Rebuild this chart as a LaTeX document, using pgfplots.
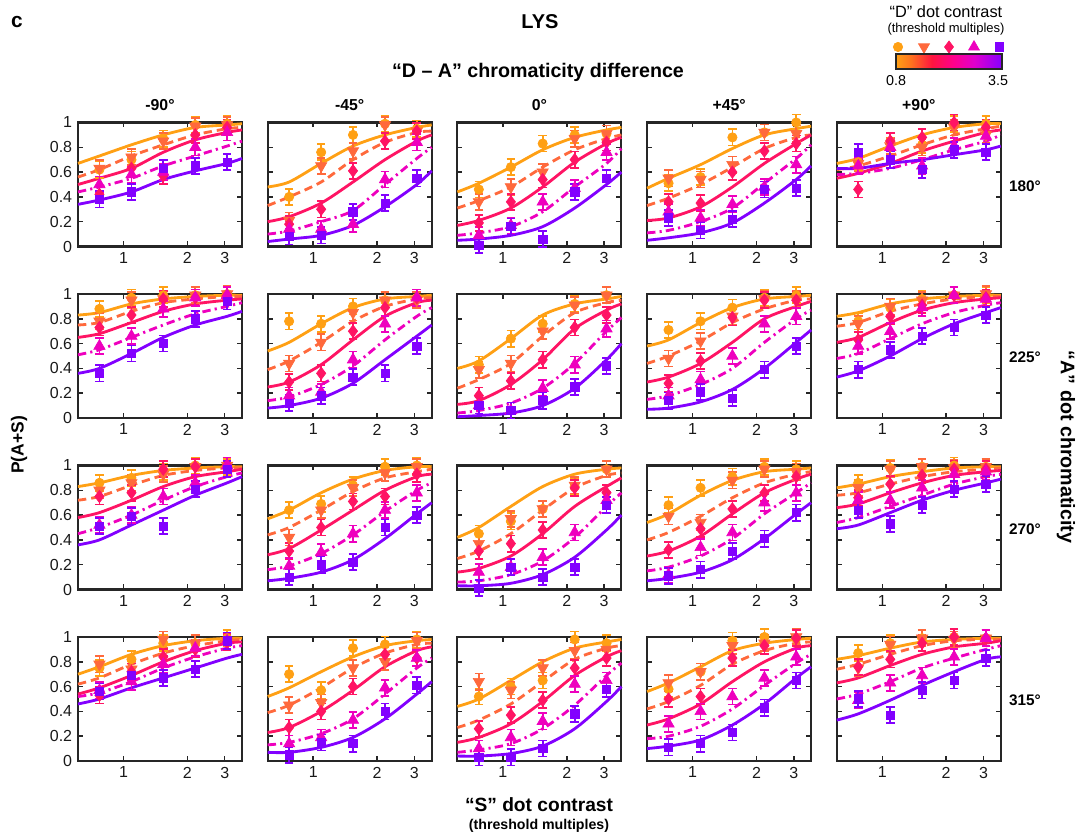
\documentclass[border=0pt]{standalone}
\usepackage{fontspec}
\setmainfont{Liberation Sans}
\usepackage{pgfplots}
\usepackage{pgfplotstable}
\pgfplotsset{compat=1.18}

\definecolor{cO}{RGB}{255,160,20}
\definecolor{cC}{RGB}{255,105,60}
\definecolor{cR}{RGB}{255,20,100}
\definecolor{cM}{RGB}{238,0,190}
\definecolor{cV}{RGB}{130,0,255}
\definecolor{axgray}{RGB}{38,38,38}

\pgfdeclarehorizontalshading{dbar}{100bp}{rgb(0bp)=(1,0.63,0.08); rgb(25bp)=(1,0.63,0.08); rgb(32bp)=(1,0.45,0.12); rgb(42bp)=(1,0.08,0.25); rgb(52bp)=(1,0,0.55); rgb(62bp)=(0.88,0,0.8); rgb(75bp)=(0.52,0,1); rgb(100bp)=(0.52,0,1)}

% ---------------- data (points) and fitted curves ----------------
% columns: x, orange (0.8), coral, red, magenta, violet (3.5)
\pgfplotstableread[row sep=\\]{x o c r m v\\
0.77 0.62 0.63 0.42 0.50 0.38\\ 1.09 0.70 0.72 0.63 0.58 0.44\\ 1.54 0.87 0.85 0.57 0.60 0.63\\ 2.18 0.98 0.97 0.90 0.80 0.65\\ 3.08 0.99 0.98 0.96 0.92 0.68\\}\dAA
\pgfplotstableread[row sep=\\]{x o c r m v\\
0.61 0.67 0.56 0.50 0.44 0.34\\ 0.77 0.73 0.62 0.55 0.48 0.375\\ 1.09 0.82 0.73 0.63 0.55 0.44\\ 1.54 0.90 0.82 0.76 0.65 0.54\\ 2.18 0.96 0.90 0.86 0.73 0.61\\ 3.08 0.98 0.95 0.92 0.81 0.67\\ 3.62 0.99 0.96 0.94 0.85 0.71\\}\cAA
\pgfplotstableread[row sep=\\]{x o c r m v\\
0.77 0.40 0.21 0.18 0.14 0.08\\ 1.09 0.76 0.65 0.30 0.14 0.09\\ 1.54 0.90 0.77 0.61 0.18 0.28\\ 2.18 0.99 0.98 0.85 0.54 0.35\\ 3.08 0.95 0.93 0.93 0.84 0.55\\}\dAB
\pgfplotstableread[row sep=\\]{x o c r m v\\
0.61 0.48 0.33 0.20 0.10 0.04\\ 0.77 0.52 0.40 0.24 0.125 0.06\\ 1.09 0.67 0.52 0.35 0.20 0.09\\ 1.54 0.81 0.70 0.52 0.29 0.17\\ 2.18 0.90 0.84 0.70 0.50 0.32\\ 3.08 0.96 0.92 0.85 0.71 0.50\\ 3.62 0.98 0.93 0.90 0.80 0.61\\}\cAB
\pgfplotstableread[row sep=\\]{x o c r m v\\
0.77 0.46 0.36 0.19 0.09 0.01\\ 1.09 0.64 0.48 0.36 0.17 0.16\\ 1.54 0.83 0.60 0.54 0.36 0.06\\ 2.18 0.90 0.87 0.70 0.47 0.44\\ 3.08 0.91 0.91 0.84 0.76 0.55\\}\dAC
\pgfplotstableread[row sep=\\]{x o c r m v\\
0.61 0.44 0.31 0.17 0.09 0.05\\ 0.77 0.51 0.37 0.21 0.11 0.06\\ 1.09 0.64 0.48 0.31 0.16 0.09\\ 1.54 0.78 0.64 0.48 0.28 0.16\\ 2.18 0.88 0.78 0.68 0.48 0.31\\ 3.08 0.94 0.87 0.83 0.67 0.50\\ 3.62 0.96 0.90 0.88 0.79 0.60\\}\cAC
\pgfplotstableread[row sep=\\]{x o c r m v\\
0.77 0.51 0.55 0.36 0.28 0.23\\ 1.09 0.56 0.54 0.35 0.23 0.13\\ 1.54 0.88 0.66 0.60 0.34 0.22\\ 2.18 0.92 0.92 0.77 0.48 0.46\\ 3.08 1.00 0.91 0.83 0.66 0.47\\}\dAD
\pgfplotstableread[row sep=\\]{x o c r m v\\
0.61 0.47 0.33 0.21 0.11 0.05\\ 0.77 0.55 0.39 0.23 0.13 0.07\\ 1.09 0.66 0.50 0.32 0.20 0.11\\ 1.54 0.79 0.64 0.48 0.31 0.19\\ 2.18 0.90 0.79 0.67 0.51 0.35\\ 3.08 0.95 0.88 0.83 0.71 0.54\\ 3.62 0.97 0.90 0.90 0.82 0.65\\}\cAD
\pgfplotstableread[row sep=\\]{x o c r m v\\
0.77 0.68 0.67 0.46 0.65 0.76\\ 1.09 0.85 0.81 0.85 0.80 0.70\\ 1.54 0.82 0.80 0.88 0.65 0.62\\ 2.18 0.99 0.96 1.00 0.81 0.78\\ 3.08 0.99 0.90 0.96 0.89 0.76\\}\dAE
\pgfplotstableread[row sep=\\]{x o c r m v\\
0.61 0.67 0.62 0.55 0.58 0.63\\ 0.77 0.71 0.65 0.59 0.59 0.63\\ 1.09 0.81 0.73 0.67 0.63 0.67\\ 1.54 0.90 0.82 0.77 0.70 0.70\\ 2.18 0.96 0.90 0.85 0.78 0.74\\ 3.08 0.99 0.95 0.92 0.85 0.78\\ 3.62 0.99 0.97 0.94 0.90 0.81\\}\cAE
% row 2
\pgfplotstableread[row sep=\\]{x o c r m v\\
0.77 0.88 0.78 0.73 0.58 0.36\\ 1.09 0.97 0.95 0.83 0.66 0.52\\ 1.54 0.99 0.96 0.96 0.88 0.60\\ 2.18 0.99 0.99 0.97 0.97 0.80\\ 3.08 1.00 1.00 0.99 0.99 0.94\\}\dBA
\pgfplotstableread[row sep=\\]{x o c r m v\\
0.61 0.83 0.75 0.65 0.51 0.36\\ 0.77 0.85 0.77 0.68 0.55 0.40\\ 1.09 0.92 0.86 0.77 0.65 0.52\\ 1.54 0.96 0.93 0.86 0.75 0.65\\ 2.18 0.98 0.96 0.92 0.84 0.75\\ 3.08 0.99 0.98 0.95 0.90 0.82\\ 3.62 0.99 0.98 0.96 0.93 0.86\\}\cBA
\pgfplotstableread[row sep=\\]{x o c r m v\\
0.77 0.78 0.44 0.29 0.18 0.12\\ 1.09 0.76 0.61 0.36 0.21 0.18\\ 1.54 0.90 0.85 0.70 0.47 0.33\\ 2.18 0.95 0.95 0.89 0.76 0.36\\ 3.08 0.97 0.95 0.97 0.97 0.58\\}\dBB
\pgfplotstableread[row sep=\\]{x o c r m v\\
0.61 0.54 0.39 0.25 0.14 0.08\\ 0.77 0.61 0.46 0.29 0.17 0.10\\ 1.09 0.76 0.61 0.43 0.27 0.16\\ 1.54 0.89 0.78 0.63 0.42 0.28\\ 2.18 0.96 0.90 0.82 0.63 0.47\\ 3.08 0.98 0.96 0.93 0.82 0.66\\ 3.62 0.99 0.97 0.95 0.89 0.75\\}\cBB
\pgfplotstableread[row sep=\\]{x o c r m v\\
0.77 0.43 0.39 0.18 0.10 0.10\\ 1.09 0.64 0.44 0.30 0.06 0.06\\ 1.54 0.76 0.70 0.47 0.24 0.14\\ 2.18 0.92 0.91 0.73 0.43 0.25\\ 3.08 0.99 0.99 0.83 0.72 0.42\\}\dBC
\pgfplotstableread[row sep=\\]{x o c r m v\\
0.61 0.40 0.24 0.11 0.04 0.01\\ 0.77 0.46 0.31 0.14 0.06 0.02\\ 1.09 0.64 0.44 0.27 0.12 0.04\\ 1.54 0.83 0.66 0.47 0.24 0.10\\ 2.18 0.92 0.85 0.72 0.44 0.24\\ 3.08 0.96 0.93 0.87 0.70 0.47\\ 3.62 0.98 0.95 0.92 0.81 0.60\\}\cBC
\pgfplotstableread[row sep=\\]{x o c r m v\\
0.77 0.71 0.48 0.28 0.18 0.14\\ 1.09 0.78 0.62 0.46 0.31 0.21\\ 1.54 0.89 0.82 0.81 0.50 0.16\\ 2.18 0.97 0.96 0.95 0.76 0.39\\ 3.08 0.99 0.96 0.95 0.82 0.58\\}\dBD
\pgfplotstableread[row sep=\\]{x o c r m v\\
0.61 0.58 0.44 0.29 0.15 0.07\\ 0.77 0.63 0.50 0.33 0.18 0.08\\ 1.09 0.77 0.62 0.44 0.27 0.13\\ 1.54 0.89 0.77 0.61 0.40 0.23\\ 2.18 0.96 0.88 0.80 0.61 0.40\\ 3.08 0.98 0.95 0.90 0.80 0.61\\ 3.62 0.99 0.96 0.94 0.87 0.71\\}\cBD
\pgfplotstableread[row sep=\\]{x o c r m v\\
0.77 0.78 0.76 0.63 0.58 0.39\\ 1.09 0.89 0.90 0.82 0.70 0.55\\ 1.54 0.96 0.95 0.91 0.89 0.66\\ 2.18 0.99 0.99 0.99 0.99 0.73\\ 3.08 0.99 1.00 0.97 0.96 0.83\\}\dBE
\pgfplotstableread[row sep=\\]{x o c r m v\\
0.61 0.82 0.74 0.61 0.48 0.33\\ 0.77 0.85 0.77 0.65 0.52 0.38\\ 1.09 0.92 0.86 0.77 0.64 0.50\\ 1.54 0.96 0.92 0.87 0.76 0.64\\ 2.18 0.98 0.96 0.93 0.85 0.76\\ 3.08 0.99 0.98 0.96 0.91 0.85\\ 3.62 0.99 0.98 0.97 0.93 0.89\\}\cBE
% row 3
\pgfplotstableread[row sep=\\]{x o c r m v\\
0.77 0.86 0.80 0.75 0.52 0.51\\ 1.09 0.90 0.86 0.78 0.60 0.59\\ 1.54 0.95 0.93 0.97 0.75 0.51\\ 2.18 1.00 0.99 0.99 0.86 0.81\\ 3.08 0.99 1.00 1.00 1.00 0.97\\}\dCA
\pgfplotstableread[row sep=\\]{x o c r m v\\
0.61 0.83 0.72 0.58 0.45 0.36\\ 0.77 0.86 0.75 0.62 0.50 0.40\\ 1.09 0.92 0.84 0.72 0.60 0.52\\ 1.54 0.96 0.92 0.83 0.72 0.64\\ 2.18 0.98 0.96 0.91 0.83 0.76\\ 3.08 0.99 0.98 0.95 0.91 0.86\\ 3.62 0.99 0.98 0.97 0.94 0.91\\}\cCA
\pgfplotstableread[row sep=\\]{x o c r m v\\
0.77 0.64 0.42 0.31 0.19 0.10\\ 1.09 0.69 0.64 0.50 0.30 0.20\\ 1.54 0.84 0.82 0.71 0.45 0.22\\ 2.18 0.99 0.94 0.75 0.64 0.50\\ 3.08 1.00 0.99 0.93 0.78 0.60\\}\dCB
\pgfplotstableread[row sep=\\]{x o c r m v\\
0.61 0.57 0.44 0.28 0.16 0.07\\ 0.77 0.64 0.50 0.33 0.19 0.09\\ 1.09 0.78 0.64 0.48 0.29 0.14\\ 1.54 0.89 0.79 0.64 0.44 0.24\\ 2.18 0.96 0.90 0.80 0.63 0.41\\ 3.08 0.99 0.95 0.91 0.80 0.61\\ 3.62 0.99 0.97 0.93 0.86 0.70\\}\cCB
\pgfplotstableread[row sep=\\]{x o c r m v\\
0.77 0.45 0.37 0.31 0.14 0.01\\ 1.09 0.55 0.57 0.37 0.18 0.18\\ 1.54 0.65 0.65 0.48 0.26 0.10\\ 2.18 0.83 0.84 0.82 0.46 0.18\\ 3.08 0.97 0.97 0.78 0.72 0.68\\}\dCC
\pgfplotstableread[row sep=\\]{x o c r m v\\
0.61 0.42 0.25 0.14 0.06 0.03\\ 0.77 0.50 0.31 0.17 0.07 0.03\\ 1.09 0.67 0.45 0.27 0.12 0.05\\ 1.54 0.83 0.64 0.45 0.23 0.12\\ 2.18 0.93 0.82 0.67 0.42 0.26\\ 3.08 0.97 0.92 0.83 0.67 0.48\\ 3.62 0.98 0.94 0.90 0.78 0.60\\}\cCC
\pgfplotstableread[row sep=\\]{x o c r m v\\
0.77 0.68 0.59 0.32 0.12 0.11\\ 1.09 0.82 0.54 0.49 0.34 0.16\\ 1.54 0.91 0.88 0.65 0.46 0.31\\ 2.18 0.99 0.97 0.78 0.70 0.41\\ 3.08 0.97 0.95 0.91 0.78 0.62\\}\dCD
\pgfplotstableread[row sep=\\]{x o c r m v\\
0.61 0.54 0.40 0.27 0.15 0.07\\ 0.77 0.61 0.46 0.31 0.18 0.09\\ 1.09 0.76 0.59 0.43 0.27 0.14\\ 1.54 0.88 0.74 0.61 0.41 0.24\\ 2.18 0.95 0.86 0.78 0.61 0.41\\ 3.08 0.97 0.93 0.89 0.78 0.61\\ 3.62 0.98 0.95 0.93 0.86 0.70\\}\cCD
\pgfplotstableread[row sep=\\]{x o c r m v\\
0.77 0.86 0.82 0.74 0.72 0.64\\ 1.09 0.98 0.97 0.85 0.72 0.53\\ 1.54 0.99 0.99 0.92 0.82 0.68\\ 2.18 1.00 0.98 0.97 0.93 0.81\\ 3.08 0.99 0.99 0.97 0.95 0.85\\}\dCE
\pgfplotstableread[row sep=\\]{x o c r m v\\
0.61 0.82 0.76 0.66 0.54 0.49\\ 0.77 0.85 0.78 0.69 0.58 0.52\\ 1.09 0.91 0.85 0.78 0.67 0.62\\ 1.54 0.95 0.91 0.86 0.76 0.72\\ 2.18 0.98 0.95 0.92 0.85 0.80\\ 3.08 0.99 0.97 0.95 0.91 0.86\\ 3.62 0.99 0.98 0.96 0.93 0.89\\}\cCE
% row 4
\pgfplotstableread[row sep=\\]{x o c r m v\\
0.77 0.75 0.78 0.53 0.57 0.56\\ 1.09 0.82 0.74 0.72 0.64 0.69\\ 1.54 0.95 0.98 0.84 0.78 0.67\\ 2.18 0.95 0.95 0.90 0.91 0.74\\ 3.08 0.99 0.97 0.96 0.97 0.97\\}\dDA
\pgfplotstableread[row sep=\\]{x o c r m v\\
0.61 0.70 0.62 0.54 0.52 0.46\\ 0.77 0.76 0.67 0.59 0.55 0.50\\ 1.09 0.86 0.78 0.69 0.64 0.59\\ 1.54 0.93 0.87 0.80 0.75 0.67\\ 2.18 0.97 0.93 0.89 0.84 0.75\\ 3.08 0.99 0.97 0.95 0.91 0.83\\ 3.62 0.99 0.98 0.96 0.93 0.86\\}\cDA
\pgfplotstableread[row sep=\\]{x o c r m v\\
0.77 0.70 0.45 0.27 0.14 0.05\\ 1.09 0.57 0.47 0.40 0.19 0.15\\ 1.54 0.91 0.75 0.60 0.33 0.14\\ 2.18 0.94 0.80 0.86 0.59 0.40\\ 3.08 0.98 0.97 0.83 0.83 0.61\\}\dDB
\pgfplotstableread[row sep=\\]{x o c r m v\\
0.61 0.52 0.39 0.23 0.13 0.07\\ 0.77 0.59 0.45 0.27 0.15 0.07\\ 1.09 0.72 0.59 0.40 0.22 0.11\\ 1.54 0.84 0.75 0.57 0.34 0.19\\ 2.18 0.93 0.87 0.76 0.54 0.34\\ 3.08 0.97 0.94 0.89 0.75 0.54\\ 3.62 0.98 0.95 0.92 0.83 0.64\\}\cDB
\pgfplotstableread[row sep=\\]{x o c r m v\\
0.77 0.52 0.64 0.26 0.10 0.03\\ 1.09 0.60 0.57 0.37 0.19 0.03\\ 1.54 0.65 0.75 0.49 0.32 0.10\\ 2.18 0.98 0.89 0.75 0.62 0.38\\ 3.08 0.95 0.90 0.83 0.65 0.58\\}\dDC
\pgfplotstableread[row sep=\\]{x o c r m v\\
0.61 0.44 0.27 0.15 0.07 0.04\\ 0.77 0.50 0.33 0.19 0.09 0.04\\ 1.09 0.65 0.46 0.30 0.14 0.06\\ 1.54 0.80 0.64 0.48 0.26 0.12\\ 2.18 0.91 0.82 0.69 0.45 0.26\\ 3.08 0.96 0.91 0.84 0.69 0.48\\ 3.62 0.98 0.93 0.89 0.79 0.60\\}\cDC
\pgfplotstableread[row sep=\\]{x o c r m v\\
0.77 0.58 0.63 0.50 0.30 0.11\\ 1.09 0.72 0.72 0.52 0.40 0.14\\ 1.54 0.97 0.93 0.83 0.52 0.23\\ 2.18 1.00 0.95 0.93 0.67 0.43\\ 3.08 0.99 1.00 0.99 0.84 0.65\\}\dDD
\pgfplotstableread[row sep=\\]{x o c r m v\\
0.61 0.56 0.42 0.29 0.18 0.10\\ 0.77 0.63 0.48 0.34 0.20 0.12\\ 1.09 0.76 0.61 0.46 0.28 0.17\\ 1.54 0.89 0.78 0.64 0.42 0.29\\ 2.18 0.95 0.89 0.80 0.61 0.46\\ 3.08 0.98 0.95 0.91 0.79 0.67\\ 3.62 0.99 0.96 0.93 0.86 0.76\\}\cDD
\pgfplotstableread[row sep=\\]{x o c r m v\\
0.77 0.87 0.75 0.76 0.49 0.50\\ 1.09 0.95 0.94 0.82 0.63 0.37\\ 1.54 0.99 0.99 0.95 0.69 0.57\\ 2.18 1.00 0.98 1.00 0.84 0.65\\ 3.08 0.99 0.99 0.99 0.99 0.83\\}\dDE
\pgfplotstableread[row sep=\\]{x o c r m v\\
0.61 0.82 0.74 0.63 0.50 0.33\\ 0.77 0.85 0.78 0.67 0.54 0.38\\ 1.09 0.91 0.86 0.77 0.64 0.49\\ 1.54 0.96 0.93 0.86 0.75 0.61\\ 2.18 0.98 0.97 0.92 0.83 0.72\\ 3.08 0.99 0.98 0.95 0.90 0.82\\ 3.62 0.99 0.98 0.97 0.93 0.84\\}\cDE

% legend markers (pixel x positions)
\pgfplotstableread[row sep=\\]{x y\\ 898 0.5\\}\lgO
\pgfplotstableread[row sep=\\]{x y\\ 924 0.5\\}\lgC
\pgfplotstableread[row sep=\\]{x y\\ 949 0.5\\}\lgR
\pgfplotstableread[row sep=\\]{x y\\ 974 0.5\\}\lgM
\pgfplotstableread[row sep=\\]{x y\\ 999 0.5\\}\lgV

\pgfplotsset{
  lbase/.style={line width=1.7pt, smooth, no marks},
  lO/.style={lbase, cO, solid},
  lC/.style={lbase, cC, dash pattern=on 5pt off 3pt},
  lR/.style={lbase, cR, solid},
  lM/.style={lbase, cM, dash pattern=on 5pt off 2.5pt on 1.3pt off 2.5pt},
  lV/.style={lbase, cV, solid},
  pbase/.style={only marks,
    error bars/y dir=both, error bars/y fixed=0.065,
    error bars/error bar style={line width=1pt, solid},
    error bars/error mark options={rotate=90, mark size=2.6pt, line width=1pt, solid}},
  pO/.style={pbase, cO, mark=*, mark size=2.8pt, mark options={solid}},
  pC/.style={pbase, cC, mark=triangle*, mark size=3.9pt, mark options={solid, rotate=180}},
  pR/.style={pbase, cR, mark=diamond*, mark size=3.7pt, mark options={solid}},
  pM/.style={pbase, cM, mark=triangle*, mark size=3.9pt, mark options={solid}},
  pV/.style={pbase, cV, mark=square*, mark size=2.5pt, mark options={solid}},
}

\newcommand\panel[5]{%
\begin{axis}[anchor=north west, at={(#1,#2)}, scale only axis, width=98.4pt, height=74.4pt,
    xmode=log, xmin=0.61, xmax=3.62, ymin=0, ymax=1,
    xtick={1,2,3}, xticklabels={1,2,3}, ytick={0,0.2,0.4,0.6,0.8,1},
    yticklabels={#5}, minor tick num=0,
    tick align=inside, major tick length=3pt,
    axis line style={axgray, line width=1.3pt},
    tick style={axgray, line width=0.9pt},
    every tick label/.append style={font=\fontsize{9.6}{11}\selectfont, text=black!90},
    /pgf/number format/assume math mode=true,
    clip=false]
\addplot[lO] table[x=x,y=o]{#4};
\addplot[lC] table[x=x,y=c]{#4};
\addplot[lR] table[x=x,y=r]{#4};
\addplot[lM] table[x=x,y=m]{#4};
\addplot[lV] table[x=x,y=v]{#4};
\addplot[pO] table[x=x,y=o]{#3};
\addplot[pC] table[x=x,y=c]{#3};
\addplot[pR] table[x=x,y=r]{#3};
\addplot[pM] table[x=x,y=m]{#3};
\addplot[pV] table[x=x,y=v]{#3};
\end{axis}}

\begin{document}
\begin{tikzpicture}
\path[use as bounding box] (0,0) rectangle (649.8pt,500.4pt);

% row 1
\panel{46.8pt}{426.9pt}{\dAA}{\cAA}{0,0.2,0.4,0.6,0.8,1}
\panel{160.62pt}{426.9pt}{\dAB}{\cAB}{}
\panel{274.44pt}{426.9pt}{\dAC}{\cAC}{}
\panel{388.26pt}{426.9pt}{\dAD}{\cAD}{}
\panel{502.08pt}{426.9pt}{\dAE}{\cAE}{}
% row 2
\panel{46.8pt}{324pt}{\dBA}{\cBA}{0,0.2,0.4,0.6,0.8,1}
\panel{160.62pt}{324pt}{\dBB}{\cBB}{}
\panel{274.44pt}{324pt}{\dBC}{\cBC}{}
\panel{388.26pt}{324pt}{\dBD}{\cBD}{}
\panel{502.08pt}{324pt}{\dBE}{\cBE}{}
% row 3
\panel{46.8pt}{221.1pt}{\dCA}{\cCA}{0,0.2,0.4,0.6,0.8,1}
\panel{160.62pt}{221.1pt}{\dCB}{\cCB}{}
\panel{274.44pt}{221.1pt}{\dCC}{\cCC}{}
\panel{388.26pt}{221.1pt}{\dCD}{\cCD}{}
\panel{502.08pt}{221.1pt}{\dCE}{\cCE}{}
% row 4
\panel{46.8pt}{118.2pt}{\dDA}{\cDA}{0,0.2,0.4,0.6,0.8,1}
\panel{160.62pt}{118.2pt}{\dDB}{\cDB}{}
\panel{274.44pt}{118.2pt}{\dDC}{\cDC}{}
\panel{388.26pt}{118.2pt}{\dDD}{\cDD}{}
\panel{502.08pt}{118.2pt}{\dDE}{\cDE}{}

% legend markers above the colour bar
\begin{axis}[anchor=south west, at={(537.6pt,469.2pt)}, scale only axis,
  width=63.6pt, height=6pt, xmin=896, xmax=1002, ymin=0, ymax=1, hide axis, clip=false]
\addplot[only marks, cO, mark=*, mark size=2.8pt] table {\lgO};
\addplot[only marks, cC, mark=triangle*, mark size=3.8pt, mark options={rotate=180}] table {\lgC};
\addplot[only marks, cR, mark=diamond*, mark size=3.6pt] table {\lgR};
\addplot[only marks, cM, mark=triangle*, mark size=3.8pt] table {\lgM};
\addplot[only marks, cV, mark=square*, mark size=2.5pt] table {\lgV};
\end{axis}

\begin{scope}[x=0.6pt, y=-0.6pt, shift={(0,500.4pt)}]
  % colour bar
  \shade[shading=dbar] (896,54) rectangle (1002,69);
  \draw[axgray, line width=1pt] (896,54) rectangle (1002,69);
  \node[font=\fontsize{8.6}{10}\selectfont] at (896,81) {0.8};
  \node[font=\fontsize{8.6}{10}\selectfont] at (998,81) {3.5};
  \node[font=\fontsize{9.8}{11}\selectfont] at (946,12) {“D” dot contrast};
  \node[font=\fontsize{7.8}{9}\selectfont] at (946,29) {(threshold multiples)};

  % titles
  \node[font=\bfseries\fontsize{12.5}{14}\selectfont] at (17,22) {c};
  \node[font=\bfseries\fontsize{12}{14}\selectfont] at (540,22) {LYS};
  \node[font=\bfseries\fontsize{11.8}{14}\selectfont] at (538,72) {“D – A” chromaticity difference};

  % column headers
  \foreach \cx/\t in {160/-90°, 349.7/-45°, 539.4/0°, 729.1/+45°, 918.8/+90°}
    \node[font=\bfseries\fontsize{9.5}{11}\selectfont] at (\cx,105) {\t};

  % row labels
  \foreach \ry/\t in {186/180°, 357.5/225°, 529/270°, 700.5/315°}
    \node[font=\bfseries\fontsize{9.2}{11}\selectfont] at (1025,\ry) {\t};

  % axis labels
  \node[font=\bfseries\fontsize{10.5}{12}\selectfont, rotate=90] at (19,445) {P(A+S)};
  \node[font=\bfseries\fontsize{11.8}{14}\selectfont, rotate=-90] at (1066,447) {“A” dot chromaticity};
  \node[font=\bfseries\fontsize{11.5}{14}\selectfont] at (539,805) {“S” dot contrast};
  \node[font=\bfseries\fontsize{8.5}{10}\selectfont] at (539,826) {(threshold multiples)};
\end{scope}
\end{tikzpicture}
\end{document}
